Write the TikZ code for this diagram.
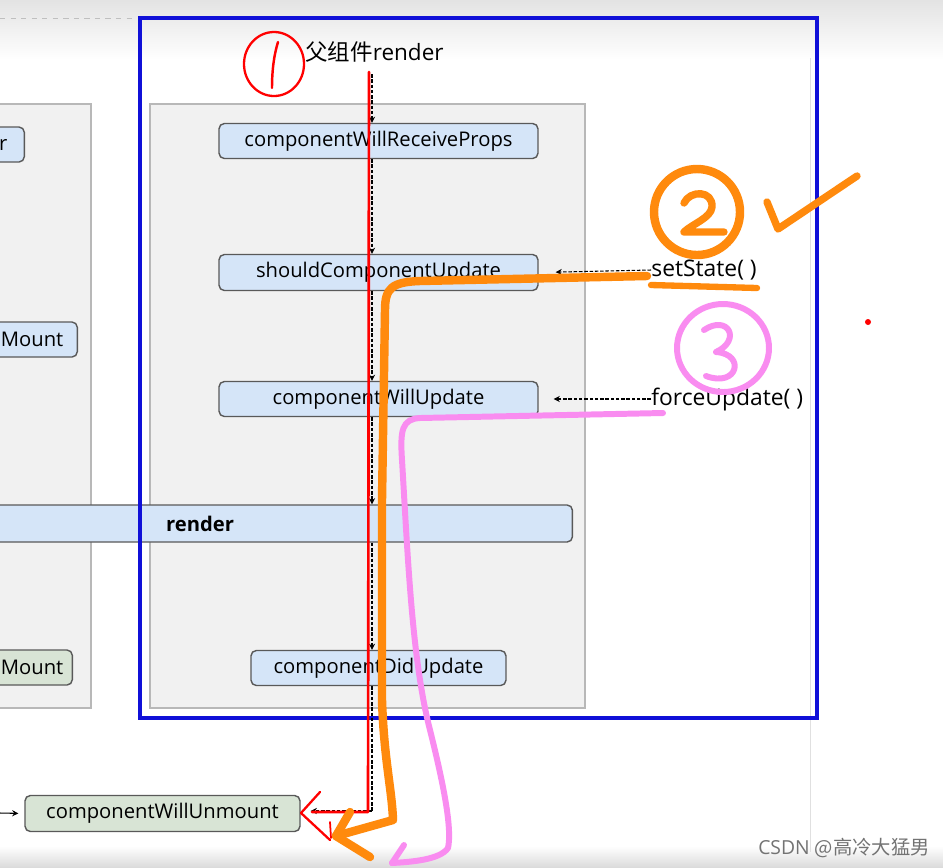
\documentclass[tikz,border=0pt]{standalone}
\usepackage{fontspec}
\setmainfont{Open Sans}
\newfontfamily\cjk{Noto Sans CJK SC}
\usetikzlibrary{positioning,arrows.meta}
\definecolor{boxblue}{HTML}{D5E5F8}
\definecolor{boxgreen}{HTML}{D8E4D5}
\definecolor{panelgray}{HTML}{F1F1F1}
\definecolor{penorange}{HTML}{FF8A0D}
\definecolor{penpink}{HTML}{F98CF0}
\definecolor{framblue}{HTML}{1010D8}

\begin{document}
\begin{tikzpicture}[x=0.02cm,y=-0.02cm,
box/.style={draw=black!65,line width=0.8pt,rounded corners=3pt,fill=boxblue,
  minimum height=0.70cm,inner sep=0pt,font=\fontsize{11.5}{13}\selectfont},
gbox/.style={box,fill=boxgreen},
cutbox/.style={box,anchor=east,align=right,text width=2.4cm,inner xsep=0.28cm},
flow/.style={black,line width=0.6pt,dash pattern=on 2pt off 1pt,
  -{Stealth[length=3.5pt,width=3.5pt]}},
panel/.style={fill=panelgray,draw=black!28,line width=0.8pt},
hand/.style={line cap=round,line join=round},
label/.style={inner sep=0pt,anchor=west,font=\fontsize{13}{15}\selectfont}]

% page background
\clip (0,0) rectangle (943,867);
\fill[white] (0,0) rectangle (943,867);
\shade[top color=black!11,bottom color=white] (0,0) rectangle (943,60);
\shade[top color=white,bottom color=black!14] (0,846) rectangle (943,867);
\draw[black!12] (810,58) -- (810,852);
\draw[black!25,dashed] (0,18) -- (136,18);

% panels
\draw[panel] (-10,104) rectangle (91,708);
\draw[panel] (150,104) rectangle (585,708);
\node[box,minimum width=14.9cm,minimum height=0.74cm,font=\fontsize{11.5}{13}\selectfont\bfseries]
  (render) at (200,523.5) {render};
\draw[framblue,line width=1.8pt] (140,18) rectangle (817,718);

% lifecycle boxes
\node[cutbox,inner xsep=0.34cm] (ctor) at (25,144.5) {r};
\node[cutbox] (didmount) at (78,339.5) {Mount};
\node[cutbox,fill=boxgreen,inner xsep=0.18cm] (willmount) at (73,667.5) {Mount};
\node[box,minimum width=6.38cm] (cwrp) at (378.5,141) {componentWillReceiveProps};
\node[box,minimum width=6.38cm,minimum height=0.72cm] (scu) at (378.5,272.5) {shouldComponentUpdate};
\node[box,minimum width=6.38cm] (cwu) at (378.5,399) {componentWillUpdate};
\node[box,minimum width=5.10cm] (cdu) at (378.5,668) {componentDidUpdate};
\node[gbox,minimum width=5.50cm,minimum height=0.72cm] (cwum) at (162.5,813.5) {componentWillUnmount};

\node[label,font=\fontsize{12.8}{15}\selectfont] (parent) at (305,52) {{\cjk 父组件}render};
\node[label] (setst) at (651,270) {setState( )};
\node[label] (force) at (651,399) {forceUpdate( )};
\node[inner sep=0pt,anchor=east,text=black!55,font=\fontsize{11}{13}\selectfont]
  (mark) at (930,848) {CSDN {\cjk @高冷大猛男}};

% dashed flow
\coordinate (top) at (372,74);
\coordinate (bottom) at (372,811);
\draw[flow] (top) -- (top |- cwrp.north);
\draw[flow] (top |- cwrp.south) -- (top |- scu.north);
\draw[flow] (top |- scu.south) -- (top |- cwu.north);
\draw[flow] (top |- cwu.south) -- (top |- render.north);
\draw[flow] (top |- render.south) -- (top |- cdu.north);
\draw[flow,-] (top |- cdu.south) -- (bottom);
\draw[flow,shorten >=0.2cm] (bottom) -- (bottom -| cwum.east);
\draw[flow,shorten >=0.34cm] (setst.west) -- (scu.east);
\draw[flow,shorten >=0.30cm] (force.west) -- (cwu.east);
\draw[black,line width=0.6pt,-{Stealth[length=3.5pt,width=3.5pt]},shorten >=0.12cm] (0,813) -- (cwum.west);

% red pen
\coordinate (rtop) at (369,72);
\draw[red,hand,line width=1.5pt] (rtop) -- (368,812) -- (312,812);
\draw[red,hand,line width=1.3pt] (320,792) -- (301,813) -- (330,840);
\draw[red,hand,line width=1.0pt] (330,822) -- (331,838);
\draw[red,hand,line width=1.3pt] (274,64) ellipse (30 and 32);
\draw[red,hand,line width=1.4pt] (278,42) .. controls (274,55) and (272,70) .. (272,88);
\fill[red] (868,322) circle (3);

% orange pen
\draw[penorange,hand,line width=4.8pt] (697,212) circle (43);
\draw[penorange,hand,line width=4.2pt] (684,203) .. controls (690,190) and (713,190) .. (712,207)
  .. controls (711,218) and (692,224) .. (684,232) -- (724,232);
\draw[penorange,hand,line width=4.2pt] (767,202) -- (778,229) -- (857,176);
\draw[penorange,hand,line width=3.6pt] (651,285) -- (757,288);
\draw[penorange,hand,line width=4.8pt] (647,276) -- (420,281)
  .. controls (392,282) and (385,288) .. (385,310)
  -- (382,500) -- (382,700) .. controls (384,760) and (392,790) .. (393,820)
  -- (336,836);
\draw[penorange,hand,line width=4.8pt] (350,812) -- (336,836) -- (370,857);

% pink pen
\draw[penpink,hand,line width=3.4pt] (723,348) ellipse (46 and 44);
\draw[penpink,hand,line width=3.4pt] (704,330) .. controls (728,314) and (742,340) .. (716,352)
  .. controls (746,354) and (738,388) .. (706,376);
\draw[penpink,hand,line width=3.4pt] (663,413) -- (420,418)
  .. controls (402,419) and (400,430) .. (402,460)
  .. controls (408,560) and (412,660) .. (430,730)
  .. controls (445,790) and (452,830) .. (448,848)
  .. controls (440,860) and (410,862) .. (392,863);
\draw[penpink,hand,line width=3.4pt] (404,845) -- (392,863);
\end{tikzpicture}
\end{document}
